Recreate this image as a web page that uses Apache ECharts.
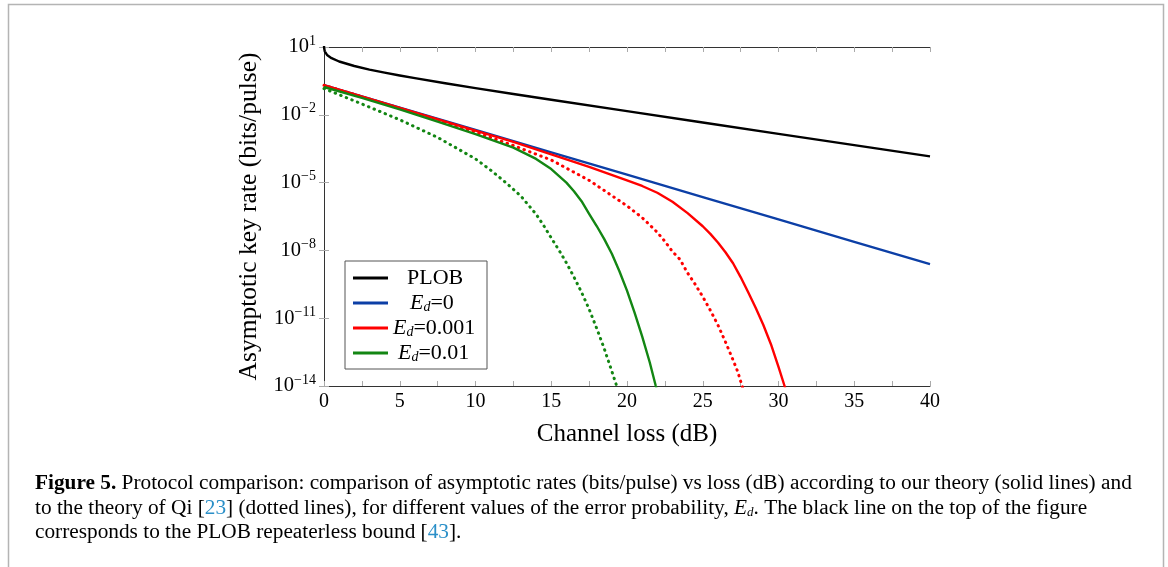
<!DOCTYPE html>
<html>
<head>
<meta charset="utf-8">
<script src="https://cdn.jsdelivr.net/npm/echarts@6/dist/echarts.min.js"></script>
<style>
  html, body { margin: 0; padding: 0; background: #fff; }
  #chart { width: 1168px; height: 567px; }
</style>
</head>
<body>
<div id="chart"></div>
<script>
// channel loss (dB) and key rates (bits/pulse)
const plobLoss = [0.002, 0.005, 0.01, 0.02, 0.05, 0.1, 0.2, 0.5, 1, 2, 3, 4, 5, 6, 8, 10, 12.5, 15, 20, 25, 30, 35, 40];
const plobRate = [11.1, 9.76, 8.76, 7.77, 6.45, 5.46, 4.47, 3.20, 2.28, 1.44, 1.00, 0.732, 0.549, 0.417, 0.249, 0.152, 0.0835, 0.0464, 0.0145, 4.57e-3, 1.44e-3, 4.56e-4, 1.44e-4];

const ed0Loss = [0, 5, 10, 15, 20, 25, 30, 35, 40];
const ed0Rate = [0.204, 2.09e-2, 2.14e-3, 2.19e-4, 2.24e-5, 2.29e-6, 2.34e-7, 2.40e-8, 2.45e-9];

// our theory, Ed = 0.001
const ed001Loss = [0, 5, 10, 12.5, 15, 17.5, 20, 21, 22, 23, 24, 25, 25.5, 26, 26.5, 27, 27.5, 28, 28.5, 29, 29.5, 30, 30.4, 30.7];
const ed001Rate = [0.204, 2.04e-2, 2.00e-3, 6.31e-4, 1.78e-4, 5.01e-5, 1.26e-5, 7.08e-6, 3.55e-6, 1.41e-6, 4.47e-7, 1.17e-7, 5.37e-8, 2.24e-8, 8.32e-9, 2.69e-9, 6.61e-10, 1.41e-10, 2.82e-11, 5.01e-12, 7.08e-13, 7.08e-14, 1.0e-14, 2.0e-15];

// Qi's theory, Ed = 0.001
const qi001Loss = [0, 2.5, 5, 7.5, 10, 12.5, 15, 17.5, 20, 21, 22, 22.5, 23, 23.5, 24, 24.5, 25, 25.5, 26, 26.5, 27, 27.3, 27.6, 27.8];
const qi001Rate = [0.200, 6.31e-2, 1.95e-2, 5.75e-3, 1.70e-3, 4.37e-4, 1.0e-4, 1.26e-5, 9.33e-7, 2.82e-7, 6.31e-8, 2.51e-8, 8.91e-9, 3.98e-9, 1.0e-9, 3.16e-10, 8.91e-11, 2.24e-11, 5.01e-12, 8.91e-13, 1.41e-13, 4.47e-14, 1.0e-14, 3.16e-15];

// our theory, Ed = 0.01
const ed01Loss = [0, 2.5, 5, 7.5, 10, 12.5, 14, 15, 16, 16.5, 17, 17.5, 18, 18.5, 19, 19.5, 20, 20.5, 21, 21.5, 21.9, 22.2];
const ed01Rate = [0.170, 5.62e-2, 1.74e-2, 5.01e-3, 1.41e-3, 3.55e-4, 1.12e-4, 3.98e-5, 1.0e-5, 4.17e-6, 1.51e-6, 4.17e-7, 1.20e-7, 3.16e-8, 7.08e-9, 1.20e-9, 1.66e-10, 1.78e-11, 1.58e-12, 1.12e-13, 1.0e-14, 2.0e-15];

// Qi's theory, Ed = 0.01
const qi01Loss = [0, 2.5, 5, 7.5, 10, 11, 12, 13, 14, 14.5, 15, 15.5, 16, 16.5, 17, 17.5, 18, 18.5, 19, 19.32, 19.6];
const qi01Rate = [0.145, 3.02e-2, 6.03e-3, 1.0e-3, 1.12e-4, 3.55e-5, 1.0e-5, 2.51e-6, 3.98e-7, 1.26e-7, 3.55e-8, 1.05e-8, 2.82e-9, 6.61e-10, 1.41e-10, 2.51e-11, 3.55e-12, 4.47e-13, 4.47e-14, 1.0e-14, 2.51e-15];

const legendNames = ['PLOB', 'Ed=0', 'Ed=0.001', 'Ed=0.01'];
const legendLabels = {
    'PLOB': '{p14| }PLOB',
    'Ed=0': '{p17| }{i|E}{s|d}=0',
    'Ed=0.001': '{i|E}{s|d}=0.001',
    'Ed=0.01': '{p5| }{i|E}{s|d}=0.01'
};

const SERIF = '"Liberation Serif", "DejaVu Serif", serif';
const BLACK = '#000000', BLUE = '#0c3fa6', RED = '#ff0000', GREEN = '#138613';

function pairs(xs, ys) {
    return xs.map((x, i) => [x, ys[i]]);
}

function makeLine(name, xs, ys, color, dotted) {
    return {
        name: name,
        type: 'line',
        data: pairs(xs, ys),
        showSymbol: false,
        symbol: 'none',
        smooth: false,
        clip: true,
        animation: false,
        lineStyle: dotted
            ? { color: color, width: 3, type: [0.5, 5.5], cap: 'round' }
            : { color: color, width: 2.4, join: 'round' },
        itemStyle: { color: color }
    };
}

function expLabel(v) {
    const e = Math.round(Math.log10(v));
    const txt = e < 0 ? '\u2212' + (-e) : String(e);
    return '{b|10}{e|' + txt + '}';
}

const chart = echarts.init(document.getElementById('chart'), null, { renderer: 'canvas' });

const baseX = {
    type: 'value', min: 0, max: 40, interval: 5,
    axisLine: { show: true, lineStyle: { color: '#333', width: 1 } },
    axisTick: { show: true, inside: true, length: 5, lineStyle: { color: '#aaa' } },
    minorTick: { show: true, splitNumber: 2, length: 5, lineStyle: { color: '#aaa' } },
    splitLine: { show: false }
};
const baseY = {
    type: 'log', logBase: 10, min: 1e-14, max: 10, interval: 3,
    axisLine: { show: true, lineStyle: { color: '#333', width: 1 } },
    axisTick: { show: true, inside: true, length: 5, lineStyle: { color: '#aaa' } },
    minorTick: { show: false },
    splitLine: { show: false }
};

const legendRich = {
    i: { fontFamily: SERIF, fontSize: 22, fontStyle: 'italic', color: '#000' },
    s: { fontFamily: SERIF, fontSize: 14, fontStyle: 'italic', color: '#000', padding: [8, 0, 0, 0] },
    p14: { width: 14, fontSize: 10 },
    p17: { width: 17, fontSize: 10 },
    p5: { width: 5, fontSize: 10 }
};

const option = {
    backgroundColor: '#ffffff',
    animation: false,
    grid: { left: 324, top: 47, right: 238, bottom: 181, containLabel: false },
    xAxis: [
        Object.assign({}, baseX, {
            position: 'bottom',
            name: 'Channel loss (dB)',
            nameLocation: 'middle',
            nameGap: 36,
            nameTextStyle: { fontFamily: SERIF, fontSize: 25, color: '#000' },
            axisLabel: { fontFamily: SERIF, fontSize: 20, color: '#000', margin: 6 }
        }),
        Object.assign({}, baseX, { position: 'top', axisLabel: { show: false } })
    ],
    yAxis: [
        Object.assign({}, baseY, {
            position: 'left',
            name: 'Asymptotic key rate (bits/pulse)',
            nameLocation: 'middle',
            nameGap: 62,
            nameTextStyle: { fontFamily: SERIF, fontSize: 25.5, color: '#000' },
            axisLabel: {
                formatter: expLabel, margin: 8,
                rich: {
                    b: { fontFamily: SERIF, fontSize: 20.5, color: '#000' },
                    e: { fontFamily: SERIF, fontSize: 14, color: '#000', padding: [0, 0, 12, 0] }
                }
            }
        }),
        Object.assign({}, baseY, { position: 'right', axisLabel: { show: false } })
    ],
    legend: {
        data: legendNames,
        orient: 'vertical',
        left: 345, top: 261,
        padding: [6, 8, 5, 8],
        itemGap: 3,
        itemWidth: 35, itemHeight: 3,
        icon: 'rect',
        borderColor: '#555', borderWidth: 1,
        backgroundColor: '#fff',
        selectedMode: false,
        formatter: name => legendLabels[name],
        textStyle: {
            fontFamily: SERIF, fontSize: 22, color: '#000',
            width: 86, lineHeight: 22,
            rich: legendRich
        }
    },
    series: [
        makeLine('PLOB', plobLoss, plobRate, BLACK, false),
        makeLine('Ed=0', ed0Loss, ed0Rate, BLUE, false),
        makeLine('Ed=0.001', ed001Loss, ed001Rate, RED, false),
        makeLine('Qi Ed=0.001', qi001Loss, qi001Rate, RED, true),
        makeLine('Ed=0.01', ed01Loss, ed01Rate, GREEN, false),
        makeLine('Qi Ed=0.01', qi01Loss, qi01Rate, GREEN, true)
    ],
    graphic: [
        {
            type: 'rect', silent: true, z: -10,
            shape: { x: 8.5, y: 4.5, width: 1155, height: 620 },
            style: { fill: 'none', stroke: '#b4b4b4', lineWidth: 1.5 }
        },
        {
            type: 'text', left: 35, top: 473,
            style: {
                text: '{bf|Figure 5.} Protocol comparison: comparison of asymptotic rates (bits/pulse) vs loss (dB) according to our theory (solid lines) and',
                font: '21.3px ' + SERIF, fill: '#000',
                rich: { bf: { fontFamily: SERIF, fontSize: 21.3, fontWeight: 'bold', fill: '#000' } }
            }
        },
        {
            type: 'text', left: 35, top: 498,
            style: {
                text: 'to the theory of Qi [{ref|23}] (dotted lines), for different values of the error probability, {it|E}{sub|d}. The black line on the top of the figure',
                font: '21.3px ' + SERIF, fill: '#000',
                rich: {
                    ref: { fontFamily: SERIF, fontSize: 21.3, fill: '#2a8fc8' },
                    it: { fontFamily: SERIF, fontSize: 21.3, fontStyle: 'italic', fill: '#000' },
                    sub: { fontFamily: SERIF, fontSize: 13, fontStyle: 'italic', fill: '#000', padding: [8, 0, 0, 0] }
                }
            }
        },
        {
            type: 'text', left: 35, top: 522,
            style: {
                text: 'corresponds to the PLOB repeaterless bound [{ref|43}].',
                font: '21.3px ' + SERIF, fill: '#000',
                rich: { ref: { fontFamily: SERIF, fontSize: 21.3, fill: '#2a8fc8' } }
            }
        }
    ]
};

chart.setOption(option);
</script>
</body>
</html>
